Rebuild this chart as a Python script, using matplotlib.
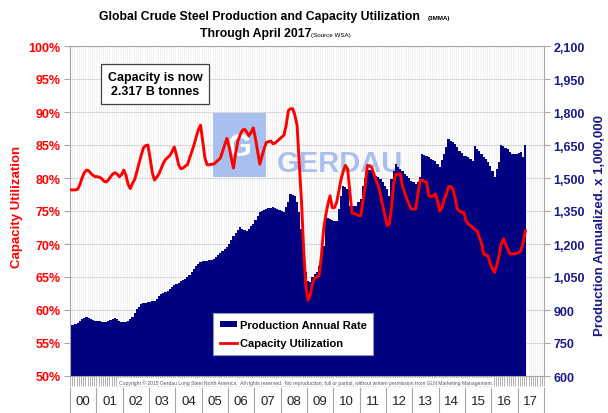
import numpy as np
import matplotlib
matplotlib.use('Agg')
import matplotlib.pyplot as plt
import matplotlib.transforms as mtransforms
from matplotlib.patches import Rectangle, Patch
from matplotlib.lines import Line2D

plt.rcParams['font.family'] = ['Liberation Sans', 'DejaVu Sans']

# =============================================================================
# Data (3MMA, monthly, Jan 2000 - Apr 2017)
# =============================================================================
years = ['00', '01', '02', '03', '04', '05', '06', '07', '08',
         '09', '10', '11', '12', '13', '14', '15', '16', '17']

# capacity utilization, %
util_2000 = [78.2, 78.2, 78.2, 78.3, 79.0, 80.0, 80.8, 81.2, 81.1, 80.7, 80.4, 80.2]
util_2001 = [80.2, 80.1, 79.9, 79.5, 79.4, 79.7, 80.2, 80.6, 80.8, 80.6, 80.2, 80.5]
util_2002 = [81.2, 80.4, 79.0, 78.4, 79.2, 79.8, 81.0, 82.3, 83.5, 84.6, 84.9, 85.0]
util_2003 = [83.0, 80.8, 79.7, 80.1, 80.6, 81.4, 82.2, 82.8, 83.1, 83.4, 84.0, 84.7]
util_2004 = [83.5, 82.0, 81.4, 81.5, 81.8, 82.0, 83.0, 84.0, 85.0, 86.2, 87.3, 88.0]
util_2005 = [85.5, 83.0, 82.0, 82.0, 82.1, 82.1, 82.4, 82.7, 83.0, 84.0, 85.0, 86.0]
util_2006 = [84.8, 83.0, 81.5, 83.8, 85.6, 86.5, 87.2, 87.4, 87.0, 86.4, 86.9, 87.6]
util_2007 = [86.0, 84.0, 82.1, 83.3, 84.5, 85.4, 85.5, 85.6, 85.2, 85.3, 85.6, 85.9]
util_2008 = [86.2, 86.5, 88.0, 90.2, 90.5, 90.5, 89.5, 87.9, 82.0, 76.4, 69.0, 63.5]
util_2009 = [61.5, 62.3, 64.0, 64.8, 65.0, 65.2, 68.0, 72.0, 74.3, 76.0, 77.3, 75.5]
util_2010 = [75.5, 76.3, 78.0, 79.8, 81.0, 81.9, 81.4, 78.0, 74.7, 74.6, 74.5, 74.3]
util_2011 = [74.3, 76.5, 78.8, 81.9, 81.8, 81.6, 80.6, 79.6, 78.8, 77.5, 75.8, 74.3]
util_2012 = [72.8, 73.0, 75.5, 79.2, 80.6, 80.6, 80.6, 78.8, 77.8, 76.8, 76.0, 75.3]
util_2013 = [75.3, 75.3, 77.5, 79.6, 79.7, 79.5, 79.3, 77.3, 77.2, 77.3, 77.6, 76.5]
util_2014 = [75.0, 75.5, 76.8, 77.5, 78.7, 78.7, 78.3, 77.0, 75.3, 75.0, 74.8, 74.8]
util_2015 = [73.5, 73.0, 72.8, 72.5, 72.2, 72.0, 71.0, 70.2, 68.5, 68.3, 68.2, 67.0]
util_2016 = [66.2, 65.7, 66.8, 68.2, 70.0, 70.8, 70.0, 69.2, 68.5, 68.5, 68.5, 68.6]
util_2017 = [68.7, 69.0, 70.2, 72.0]

# production, annual rate, million tonnes
prod_2000 = [833, 833, 835, 843, 851, 858, 865, 867, 862, 859, 855, 851]
prod_2001 = [851, 848, 846, 844, 847, 852, 855, 858, 862, 858, 850, 847]
prod_2002 = [845, 844, 852, 860, 867, 885, 905, 915, 927, 930, 933, 935]
prod_2003 = [937, 940, 942, 950, 962, 973, 978, 982, 985, 995, 1005, 1014]
prod_2004 = [1020, 1025, 1030, 1036, 1043, 1049, 1060, 1073, 1086, 1098, 1110, 1120]
prod_2005 = [1122, 1123, 1124, 1126, 1129, 1132, 1140, 1150, 1160, 1168, 1177, 1185]
prod_2006 = [1200, 1220, 1238, 1252, 1265, 1276, 1270, 1265, 1260, 1270, 1280, 1291]
prod_2007 = [1310, 1328, 1344, 1350, 1355, 1359, 1362, 1365, 1367, 1363, 1360, 1355]
prod_2008 = [1350, 1344, 1370, 1389, 1427, 1425, 1420, 1390, 1344, 1270, 1180, 1071]
prod_2009 = [1030, 1026, 1050, 1064, 1071, 1101, 1150, 1192, 1329, 1320, 1314, 1310]
prod_2010 = [1306, 1306, 1359, 1420, 1465, 1458, 1450, 1374, 1374, 1374, 1374, 1390]
prod_2011 = [1405, 1465, 1500, 1541, 1538, 1533, 1520, 1510, 1503, 1495, 1480, 1465]
prod_2012 = [1450, 1420, 1495, 1530, 1564, 1550, 1541, 1530, 1520, 1511, 1500, 1488]
prod_2013 = [1480, 1473, 1480, 1503, 1609, 1605, 1601, 1595, 1586, 1582, 1579, 1565]
prod_2014 = [1549, 1580, 1609, 1640, 1677, 1670, 1662, 1655, 1640, 1624, 1612, 1601]
prod_2015 = [1598, 1594, 1585, 1579, 1647, 1632, 1625, 1609, 1597, 1585, 1571, 1555]
prod_2016 = [1533, 1503, 1540, 1571, 1650, 1645, 1638, 1632, 1620, 1609, 1609, 1609]
prod_2017 = [1612, 1617, 1594, 1650]

util_ticks = [50, 55, 60, 65, 70, 75, 80, 85, 90, 95, 100]
prod_ticks = [600, 750, 900, 1050, 1200, 1350, 1500, 1650, 1800, 1950, 2100]

util = np.array(util_2000 + util_2001 + util_2002 + util_2003 + util_2004 + util_2005
                + util_2006 + util_2007 + util_2008 + util_2009 + util_2010 + util_2011
                + util_2012 + util_2013 + util_2014 + util_2015 + util_2016 + util_2017)
prod = np.array(prod_2000 + prod_2001 + prod_2002 + prod_2003 + prod_2004 + prod_2005
                + prod_2006 + prod_2007 + prod_2008 + prod_2009 + prod_2010 + prod_2011
                + prod_2012 + prod_2013 + prod_2014 + prod_2015 + prod_2016 + prod_2017)
months = np.arange(len(util)) + 0.5
edges = np.arange(len(prod) + 1)

RED = '#FF0000'
NAVY = '#000080'
NAVY_TXT = '#1A1A8A'
GREY = '#A6A6A6'

W, H = 608, 414
fig = plt.figure(figsize=(W / 100, H / 100), dpi=100)
rect = [70 / W, 1 - 377 / H, 474 / W, 330 / H]

# production bars (bottom axes, right scale)
axp = fig.add_axes(rect)
axu = axp.twinx()
axu.set_zorder(axp.get_zorder() + 1)
axu.patch.set_visible(False)

# monthly bars drawn as one filled step outline (no gaps between bars)
axp.stairs(prod, edges, baseline=600, fill=True, color=NAVY, lw=0, zorder=2)
axp.set_xlim(0, 216)
axp.set_ylim(600, 2100)
axp.yaxis.tick_right()
axp.set_yticks(prod_ticks, [f'{v:,}' for v in prod_ticks], fontweight='bold', color=NAVY_TXT, fontsize=9)
axp.tick_params(axis='y', length=4, color=GREY, pad=3)

axp.set_xticks([])
axp.set_xticks(np.arange(0, 217), minor=True)
axp.tick_params(axis='x', which='minor', length=7.5, width=0.6, color=GREY, labelbottom=False)
axp.set_axisbelow(True)
axp.grid(which='minor', axis='x', color='#EDEDED', lw=0.5)
axp.grid(which='major', axis='y', color='#D9D9D9', lw=0.8)
for s in axp.spines.values():
    s.set_color(GREY)
    s.set_linewidth(0.8)

# capacity utilization line (top axes, left scale)
axu.plot(months, util, color=RED, lw=2.1, zorder=3)
axu.set_ylim(50, 100)
axu.yaxis.tick_left()
axu.set_yticks(util_ticks, [f'{v}%' for v in util_ticks], fontweight='bold', color=RED, fontsize=9)
axu.tick_params(axis='y', length=4, color=GREY, pad=3)
axu.tick_params(axis='x', which='both', bottom=False, top=False)
for s in axu.spines.values():
    s.set_visible(False)

# year category axis
trans = mtransforms.blended_transform_factory(axp.transData, axp.transAxes)
for i in range(len(years) + 1):
    axp.plot([12 * i, 12 * i], [-0.035, -0.115], transform=trans, color=GREY, lw=0.8, clip_on=False)
for i, yr in enumerate(years):
    axp.text(12 * i + 6, -0.075, yr, transform=trans, ha='center', va='center', fontsize=9.5, color='#222222')

fig.text(306 / W, 1 - 383 / H,
         'Copyright \u00a9 2015 Gerdau Long Steel North America.  All rights reserved.  '
         'No reproduction, full or partial, without written permission from GLN Marketing Management.',
         fontsize=3.6, ha='center', va='center', color='#555555',
         bbox=dict(fc='white', ec='none', pad=0.6))

# watermark
axp.add_patch(Rectangle((213 / W, 1 - 178 / H), 53 / W, 64 / H, transform=fig.transFigure,
                        facecolor='#A9C0EE', edgecolor='none', zorder=1))
axp.text(239.5 / W, 1 - 148 / H, 'G', transform=fig.transFigure, ha='center', va='center',
         fontsize=22, fontweight='bold', color='white', zorder=1)
axp.text(277 / W, 1 - 172 / H, 'GERDAU', transform=fig.transFigure, ha='left', va='baseline',
         fontsize=21, fontweight='bold', color='#A9C0EE', zorder=1)

# capacity note
axu.text(155 / W, 1 - 85 / H, 'Capacity is now\n2.317 B tonnes', transform=fig.transFigure,
         ha='center', va='center', fontsize=9, fontweight='bold', linespacing=1.15,
         bbox=dict(boxstyle='square,pad=0.55', fc='white', ec='#404040', lw=0.9), zorder=5)

# legend
handles = [Patch(facecolor=NAVY, edgecolor='none'), Line2D([], [], color=RED, lw=2)]
leg = axu.legend(handles, ['Production Annual Rate', 'Capacity Utilization'],
                 loc='upper left', bbox_to_anchor=(213 / W, 1 - 314 / H), bbox_transform=fig.transFigure,
                 borderaxespad=0, fancybox=False, framealpha=1, edgecolor='#8A96B8',
                 prop=dict(weight='bold', size=8), handlelength=1.6, handleheight=0.45,
                 handletextpad=0.2, labelspacing=0.75, borderpad=0.6)
leg.get_frame().set_linewidth(0.8)

# titles and axis labels
fig.text(99 / W, 1 - 20 / H, 'Global Crude Steel Production and Capacity Utilization',
         fontsize=8.8, fontweight='bold', ha='left', va='baseline')
fig.text(428 / W, 1 - 20 / H, '(3MMA)', fontsize=4.5, fontweight='bold', ha='left', va='baseline')
fig.text(200 / W, 1 - 36.5 / H, 'Through April 2017', fontsize=8.8, fontweight='bold', ha='left', va='baseline')
fig.text(311 / W, 1 - 36.5 / H, '(Source WSA)', fontsize=4.5, ha='left', va='baseline')

fig.text(17 / W, 1 - 207 / H, 'Capacity Utilization', rotation=90, color=RED,
         fontsize=9.5, fontweight='bold', ha='center', va='center')
fig.text(600 / W, 1 - 226 / H, 'Production Annualized. x 1,000,000', rotation=90, color=NAVY_TXT,
         fontsize=9.5, fontweight='bold', ha='center', va='center')

fig.savefig('out.png', dpi=100)
